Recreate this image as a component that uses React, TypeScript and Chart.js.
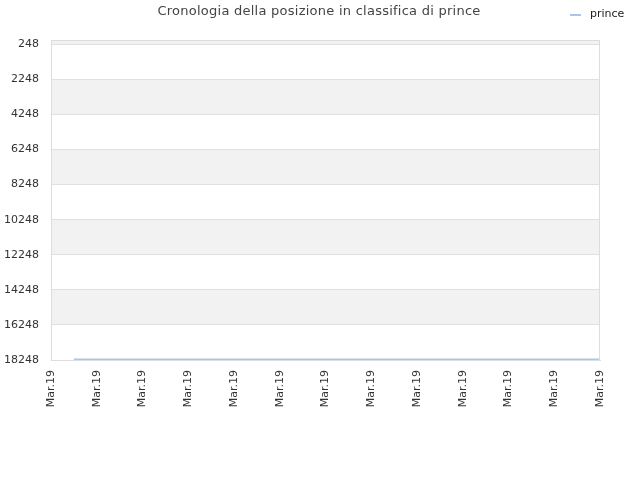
import { useEffect, useRef } from 'react';
import Chart from 'chart.js/auto';

const title = 'Cronologia della posizione in classifica di prince';
const seriesName = 'prince';
const dateLabels = [
  'Mar.19', 'Mar.19', 'Mar.19', 'Mar.19', 'Mar.19', 'Mar.19', 'Mar.19',
  'Mar.19', 'Mar.19', 'Mar.19', 'Mar.19', 'Mar.19', 'Mar.19', 'Mar.19',
  'Mar.19', 'Mar.19', 'Mar.19', 'Mar.19', 'Mar.19', 'Mar.19', 'Mar.19',
  'Mar.19', 'Mar.19', 'Mar.19', 'Mar.19',
];
const positions = [
  null, 18200, 18200, 18200, 18200, 18200, 18200, 18200, 18200, 18200,
  18200, 18200, 18200, 18200, 18200, 18200, 18200, 18200, 18200, 18200,
  18200, 18200, 18200, 18200, 18200,
];
const yTicks = [248, 2248, 4248, 6248, 8248, 10248, 12248, 14248, 16248, 18248];

const FONT = '"DejaVu Sans", sans-serif';
const LINE_COLOR = '#a4c8ec';

// alternating bands + frame + title + legend
const decor = {
  id: 'decor',
  beforeDraw(chart: any) {
    const { ctx, chartArea, scales } = chart;
    const y = scales.y;
    ctx.save();
    ctx.fillStyle = '#ffffff';
    ctx.fillRect(0, 0, chart.width, chart.height);
    const edges = [y.min, ...yTicks, y.max].filter((v, i, a) => a.indexOf(v) === i).sort((a, b) => a - b);
    for (let i = 0; i < edges.length - 1; i++) {
      const a = y.getPixelForValue(edges[i]);
      const b = y.getPixelForValue(edges[i + 1]);
      const idx = Math.floor((edges[i] - 248) / 2000);
      ctx.fillStyle = idx % 2 === 0 ? '#ffffff' : '#f2f2f2';
      ctx.fillRect(chartArea.left, Math.min(a, b), chartArea.right - chartArea.left, Math.abs(b - a));
    }
    ctx.restore();
  },
  afterDraw(chart: any) {
    const { ctx, chartArea } = chart;
    ctx.save();
    ctx.strokeStyle = '#dddddd';
    ctx.lineWidth = 1;
    ctx.strokeRect(chartArea.left + 0.5, chartArea.top + 0.5, chartArea.right - chartArea.left - 1, chartArea.bottom - chartArea.top);
    ctx.fillStyle = '#444444';
    ctx.font = `13px ${FONT}`;
    ctx.textAlign = 'center';
    ctx.textBaseline = 'middle';
    (ctx as any).letterSpacing = '0.25px';
    ctx.fillText(title, 319, 12);
    (ctx as any).letterSpacing = '0px';
    ctx.strokeStyle = LINE_COLOR;
    ctx.lineWidth = 2;
    ctx.beginPath();
    ctx.moveTo(570, 15);
    ctx.lineTo(581, 15);
    ctx.stroke();
    ctx.fillStyle = '#222222';
    ctx.font = `11px ${FONT}`;
    ctx.textAlign = 'left';
    ctx.fillText(seriesName, 590, 14.5);
    ctx.restore();
  },
};

export default function App() {
  const canvasRef = useRef<HTMLCanvasElement>(null);

  useEffect(() => {
    document.body.style.margin = '0';
    if (!canvasRef.current) return;
    const chart = new Chart(canvasRef.current, {
      type: 'line',
      data: {
        labels: dateLabels,
        datasets: [{
          label: seriesName,
          data: positions,
          borderColor: LINE_COLOR,
          backgroundColor: LINE_COLOR,
          borderWidth: 1.5,
          pointRadius: 0,
          tension: 0,
        }],
      },
      options: {
        responsive: false,
        animation: false,
        layout: { padding: { top: 40, right: 40, left: 0, bottom: 0 } },
        plugins: {
          legend: { display: false },
          title: { display: false },
          tooltip: { enabled: false },
        },
        scales: {
          x: {
            offset: false,
            grid: { display: false, drawTicks: false },
            border: { color: '#dddddd' },
            afterFit: (s: any) => { s.height = 120; },
            ticks: {
              autoSkip: false,
              maxRotation: 90,
              minRotation: 90,
              padding: 10,
              color: '#333333',
              font: { family: FONT, size: 11 },
              callback: (_v: any, i: number) => (i % 2 === 0 ? dateLabels[i] : null),
            },
          },
          y: {
            reverse: true,
            min: 0,
            max: 18248,
            afterFit: (s: any) => { s.width = 51; },
            afterBuildTicks: (s: any) => { s.ticks = yTicks.map(v => ({ value: v })); },
            grid: { color: '#e0e0e0', drawTicks: false },
            border: { color: '#dddddd' },
            ticks: {
              padding: 12,
              color: '#333333',
              font: { family: FONT, size: 11 },
              callback: (v: any) => String(v),
            },
          },
        },
      },
      plugins: [decor],
    });
    return () => chart.destroy();
  }, []);

  return <canvas ref={canvasRef} width={640} height={480} />;
}
